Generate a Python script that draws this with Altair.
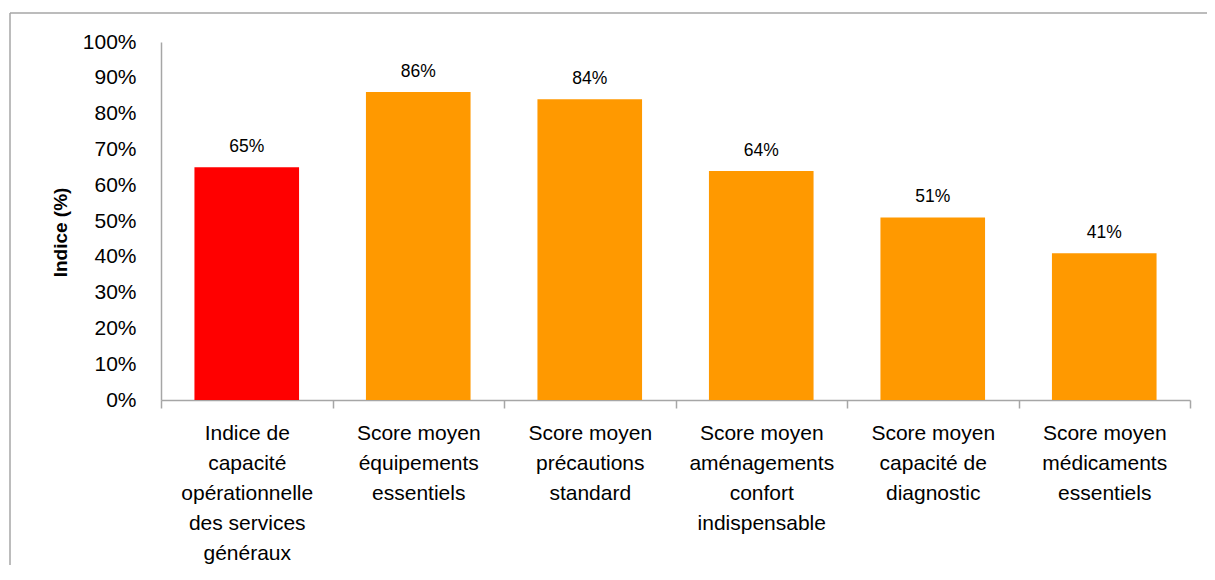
import altair as alt
import pandas as pd

categories = [
    "Indice de\ncapacité\nopérationnelle\ndes services\ngénéraux",
    "Score moyen\néquipements\nessentiels",
    "Score moyen\nprécautions\nstandard",
    "Score moyen\naménagements\nconfort\nindispensable",
    "Score moyen\ncapacité de\ndiagnostic",
    "Score moyen\nmédicaments\nessentiels",
]
values = [65, 86, 84, 64, 51, 41]
colors = ["#FF0000", "#FF9900", "#FF9900", "#FF9900", "#FF9900", "#FF9900"]
y_ticks = [0, 10, 20, 30, 40, 50, 60, 70, 80, 90, 100]

df = pd.DataFrame({"cat": categories, "val": values, "color": colors})
df["lbl"] = [f"{v}%" for v in values]

W, H = 1029, 358
GRAY = "#A6A6A6"
FONT = "Liberation Sans, Arial, sans-serif"

x_enc = alt.X(
    "cat:N",
    sort=None,
    scale=alt.Scale(paddingInner=0, paddingOuter=0),
    axis=alt.Axis(
        title=None,
        labelAngle=0,
        labelExpr="split(datum.label, '\\n')",
        labelFont=FONT,
        labelFontSize=21,
        labelLineHeight=30,
        labelColor="black",
        labelPadding=14,
        labelBaseline="top",
        labelLimit=400,
        labelOverlap=False,
        tickBand="extent",
        tickSize=8,
        tickColor=GRAY,
        tickWidth=1.5,
        domainColor=GRAY,
        domainWidth=1.5,
    ),
)
y_enc = alt.Y(
    "val:Q",
    scale=alt.Scale(domain=[0, 100], nice=False),
    axis=alt.Axis(
        values=y_ticks,
        tickCount=11,
        labelExpr="datum.value + '%'",
        labelOverlap=False,
        ticks=False,
        grid=False,
        labelFont=FONT,
        labelFontSize=21,
        labelColor="black",
        labelPadding=25,
        domainColor=GRAY,
        domainWidth=1.5,
        title="Indice (%)",
        titleFont=FONT,
        titleFontSize=19,
        titleFontWeight="bold",
        titleColor="black",
        titleAngle=270,
        titleX=-101,
        titleY=190,
        titleAlign="center",
        titleBaseline="middle",
    ),
)

base = alt.Chart(df)
bars = base.mark_bar(width=alt.RelativeBandSize(0.61)).encode(
    x=x_enc, y=y_enc, color=alt.Color("color:N", scale=None)
)
texts = base.mark_text(
    dy=-15, baseline="alphabetic", font=FONT, fontSize=17.5, color="black"
).encode(x=x_enc, y=y_enc, text="lbl:N")

one = pd.DataFrame({"a": [0]})
top_border = alt.Chart(one).mark_rule(color=GRAY, strokeWidth=1.5).encode(
    x=alt.value(-151), x2=alt.value(W + 40), y=alt.value(-29)
)
left_border = alt.Chart(one).mark_rule(color=GRAY, strokeWidth=1.5).encode(
    x=alt.value(-151), y=alt.value(-29), y2=alt.value(H + 200)
)

chart = (
    alt.layer(bars, texts, top_border, left_border)
    .properties(
        width=W,
        height=H,
        autosize=alt.AutoSizeParams(type="none"),
        padding={"left": 153, "top": 34, "right": 17, "bottom": 165},
    )
    .configure(font=FONT)
    .configure_view(strokeWidth=0, stroke="transparent")
)

chart.save("out.html", embed_options={"renderer": "svg", "actions": False})
